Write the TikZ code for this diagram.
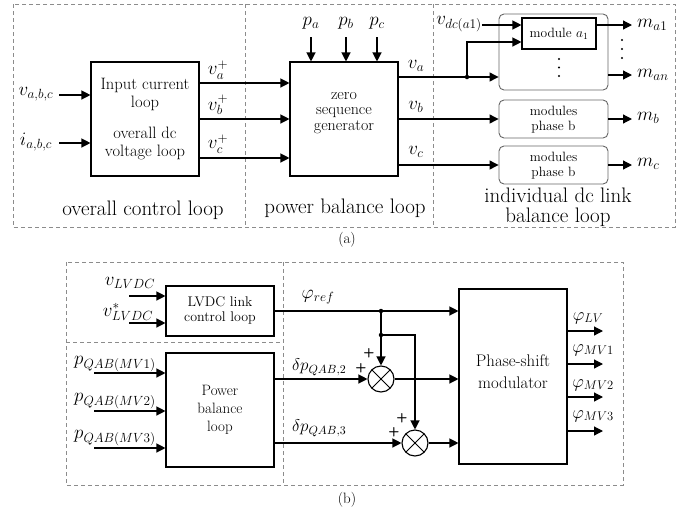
\RequirePackage{fix-cm}
\documentclass[tikz,border=0pt]{standalone}
\usetikzlibrary{arrows.meta}
\newcommand{\fbx}{\fontsize{16.5}{18.5}\selectfont}
\newcommand{\fsm}{\fontsize{13.5}{15}\selectfont}
\newcommand{\fml}{\fontsize{19}{20}\selectfont}
\newcommand{\fti}{\fontsize{21}{21}\selectfont}
\newcommand{\fcap}{\fontsize{15}{17}\selectfont}
\tikzset{
 blk/.style={draw, line width=1.1pt, inner sep=0pt},
 rbox/.style={draw=black!60, line width=0.9pt, rounded corners=5pt, inner sep=0pt},
 dbox/.style={draw=black!45, dash pattern=on 4pt off 3pt, line width=0.8pt},
 ln/.style={line width=1.2pt},
 arr/.style={ln, -{Triangle[length=9pt,width=9pt]}},
 jdot/.style={circle, fill, inner sep=0pt, minimum size=4.5pt},
 txt/.style={align=center, inner sep=0pt},
 mlab/.style={inner sep=0pt, font=\fml},
 olab/.style={inner sep=0pt, font=\fontsize{18}{19}\selectfont},
 dlab/.style={inner sep=0pt, font=\fontsize{17}{18}\selectfont},
 sdot/.style={circle, fill, inner sep=0pt, minimum size=2.4pt},
 sumc/.style={circle, draw, line width=1.1pt, minimum size=26pt, inner sep=0pt,
   path picture={\draw[line width=1pt] (path picture bounding box.north west) -- (path picture bounding box.south east)
   (path picture bounding box.north east) -- (path picture bounding box.south west);}},
 pl/.style={inner sep=0pt, font=\fontsize{13}{13}\selectfont\sffamily\bfseries},
}
\begin{document}
\begin{tikzpicture}[x=1pt,y=-1pt]
\useasboundingbox (0,0) rectangle (694,512);
% ---------------- part (a)
\draw[dbox] (13,4) rectangle (675,227);
\draw[dbox] (245,4) -- (245,227);
\draw[dbox] (433,4) -- (433,227);

\node[blk, minimum width=108pt, minimum height=114pt] (b1) at (145,119) {};
\node[txt, font=\fbx] (b1t) at (145,94.5) {Input current\\loop};
\node[txt, font=\fbx] (b1u) at (145,143.5) {overall dc\\voltage loop};

\node[blk, minimum width=108pt, minimum height=114pt] (b2) at (344,119) {};
\node[txt, font=\fontsize{16}{15.5}\selectfont] (b2t) at (344,113) {zero\\sequence\\generator};

\node[mlab] (lva) at (36,94) {$v_{a,b,c}$};
\node[mlab] (lia) at (36,142) {$i_{a,b,c}$};
\coordinate (cva) at (59,95);
\coordinate (cia) at (59,143);
\draw[arr] (cva) -- (cva -| b1.west);
\draw[arr] (cia) -- (cia -| b1.west);

\draw[arr] (b1.east |- 0,83) -- (b2.west |- 0,83);
\draw[arr] (b1.east |- 0,119) -- (b2.west |- 0,119);
\draw[arr] (b1.east |- 0,158) -- (b2.west |- 0,158);
\node[mlab] (lvap) at (218,70) {$v_a^+$};
\node[mlab] (lvbp) at (218,105) {$v_b^+$};
\node[mlab] (lvcp) at (218,144) {$v_c^+$};

\node[mlab] (lpa) at (311,23) {$p_a$};
\node[mlab] (lpb) at (346,23) {$p_b$};
\node[mlab] (lpc) at (377,23) {$p_c$};
\draw[arr] (311,37) -- (b2.north -| 311,0);
\draw[arr] (346,37) -- (b2.north -| 346,0);
\draw[arr] (377,37) -- (b2.north -| 377,0);

\node[rbox, minimum width=109pt, minimum height=76pt] (big) at (553.5,52) {};
\node[blk, minimum width=74pt, minimum height=31pt, font=\fsm] (moda) at (559,33.5) {module $a_1$};
\node[rbox, minimum width=109pt, minimum height=38pt] (phb) at (553.5,119) {};
\node[txt, font=\fsm] at (553.5,119.5) {modules\\phase b};
\node[rbox, minimum width=109pt, minimum height=38pt] (phc) at (553.5,165) {};
\node[txt, font=\fsm] at (553.5,165.5) {modules\\phase b};

\node[mlab] (lva2) at (416,66) {$v_a$};
\node[mlab] (lvb2) at (416,107) {$v_b$};
\node[mlab] (lvc2) at (416,152) {$v_c$};
\draw[arr] (b2.east |- 0,77) -- (big.west |- 0,77);
\node[jdot] (ja) at (467,77) {};
\draw[arr] (ja) |- (moda.west |- 0,42);
\draw[arr] (b2.east |- 0,119) -- (phb.west);
\draw[arr] (b2.east |- 0,165) -- (phc.west);

\node[mlab] (lvdc) at (459,24) {$v_{dc(a1)}$};
\draw[arr] (lvdc.east |- 0,25) -- (moda.west |- 0,25);

\node[sdot] at (559,59) {};
\node[sdot] at (559,67.5) {};
\node[sdot] at (559,76) {};
\node[sdot] at (622,40) {};
\node[sdot] at (622,49) {};
\node[sdot] at (622,58) {};

\coordinate (ema1) at (632,25);
\coordinate (eman) at (632,75);
\coordinate (emb) at (632,119);
\coordinate (emc) at (632,165);
\draw[arr] (moda.east |- ema1) -- (ema1);
\draw[arr] (big.east |- eman) -- (eman);
\draw[arr] (phb.east) -- (emb);
\draw[arr] (phc.east) -- (emc);
\node[mlab, anchor=west] (lma1) at (637,25) {$m_{a1}$};
\node[mlab, anchor=west] (lman) at (637,75) {$m_{an}$};
\node[mlab, anchor=west] (lmb) at (637,118) {$m_b$};
\node[mlab, anchor=west] (lmc) at (637,164) {$m_c$};

\node[inner sep=0pt, font=\fti] (t1) at (143,210) {overall control loop};
\node[inner sep=0pt, font=\fti] (t2) at (345,208) {power balance loop};
\node[txt, font=\fontsize{21}{19.5}\selectfont] (t3) at (558,207.5) {individual dc link\\balance loop};
\node[inner sep=0pt, font=\fcap] (capa) at (347,240) {(a)};

% ---------------- part (b)
\draw[dbox] (66,262) rectangle (623,485);
\draw[dbox] (66,342) -- (283,342);
\draw[dbox] (283,262) -- (283,485);

\node[blk, minimum width=108pt, minimum height=50pt] (lvdc) at (220,311) {};
\node[txt, font=\fontsize{14}{15}\selectfont] at (220,310.5) {LVDC link\\control loop};
\node[blk, minimum width=108pt, minimum height=114pt] (pbl) at (220,410) {};
\node[txt, font=\fontsize{15}{18}\selectfont] at (220,410) {Power\\balance\\loop};
\node[blk, minimum width=108pt, minimum height=175pt] (psm) at (513,376.5) {};
\node[txt, font=\fontsize{16.8}{22}\selectfont] at (513,372) {Phase-shift\\modulator};

\node[mlab] (lv1) at (130,283) {$v_{LVDC}$};
\node[mlab] (lv2) at (128,312) {$v_{LVDC}^{*}$};
\coordinate (cv1) at (129,296);
\coordinate (cv2) at (129,323);
\draw[arr] (cv1) -- (cv1 -| lvdc.west);
\draw[arr] (cv2) -- (cv2 -| lvdc.west);

\node[mlab] (lp1) at (115,364) {$p_{QAB(MV1)}$};
\node[mlab] (lp2) at (115,401) {$p_{QAB(MV2)}$};
\node[mlab] (lp3) at (115,438) {$p_{QAB(MV3)}$};
\coordinate (cp1) at (94,373);
\coordinate (cp2) at (94,411);
\coordinate (cp3) at (94,448);
\draw[arr] (cp1) -- (cp1 -| pbl.west);
\draw[arr] (cp2) -- (cp2 -| pbl.west);
\draw[arr] (cp3) -- (cp3 -| pbl.west);

\node[sumc] (s1) at (381,379) {};
\node[sumc] (s2) at (415,443) {};

\draw[arr] (lvdc.east) -- (lvdc.east -| psm.west);
\node[mlab] (lphi) at (318,297) {$\varphi_{ref}$};
\node[jdot] (j1) at (381,311) {};
\node[jdot] (j2) at (381,335) {};
\draw[arr] (j1) -- (s1.north);
\draw[arr] (j2) -| (s2.north);

\draw[arr] (pbl.east |- s1) -- (s1.west);
\draw[arr] (pbl.east |- s2) -- (s2.west);
\node[dlab, anchor=west] (ld2) at (292,367) {$\delta p_{QAB,2}$};
\node[dlab, anchor=west] (ld3) at (292,428) {$\delta p_{QAB,3}$};
\draw[arr] (s1.east) -- (s1 -| psm.west);
\draw[arr] (s2.east) -- (s2 -| psm.west);

\node[pl] at (369,353) {+};
\node[pl] at (361,368) {+};
\node[pl] at (402,418) {+};
\node[pl] at (394,432) {+};

\coordinate (eo1) at (603,331);
\coordinate (eo2) at (603,364);
\coordinate (eo3) at (603,397);
\coordinate (eo4) at (603,431);
\draw[arr] (psm.east |- eo1) -- (eo1);
\draw[arr] (psm.east |- eo2) -- (eo2);
\draw[arr] (psm.east |- eo3) -- (eo3);
\draw[arr] (psm.east |- eo4) -- (eo4);
\node[olab] (lo1) at (588,318) {$\varphi_{LV}$};
\node[olab] (lo2) at (593,350) {$\varphi_{MV1}$};
\node[olab] (lo3) at (593,385) {$\varphi_{MV2}$};
\node[olab] (lo4) at (593,416) {$\varphi_{MV3}$};

\node[inner sep=0pt, font=\fcap] (capb) at (347,500) {(b)};
\end{tikzpicture}
\end{document}
